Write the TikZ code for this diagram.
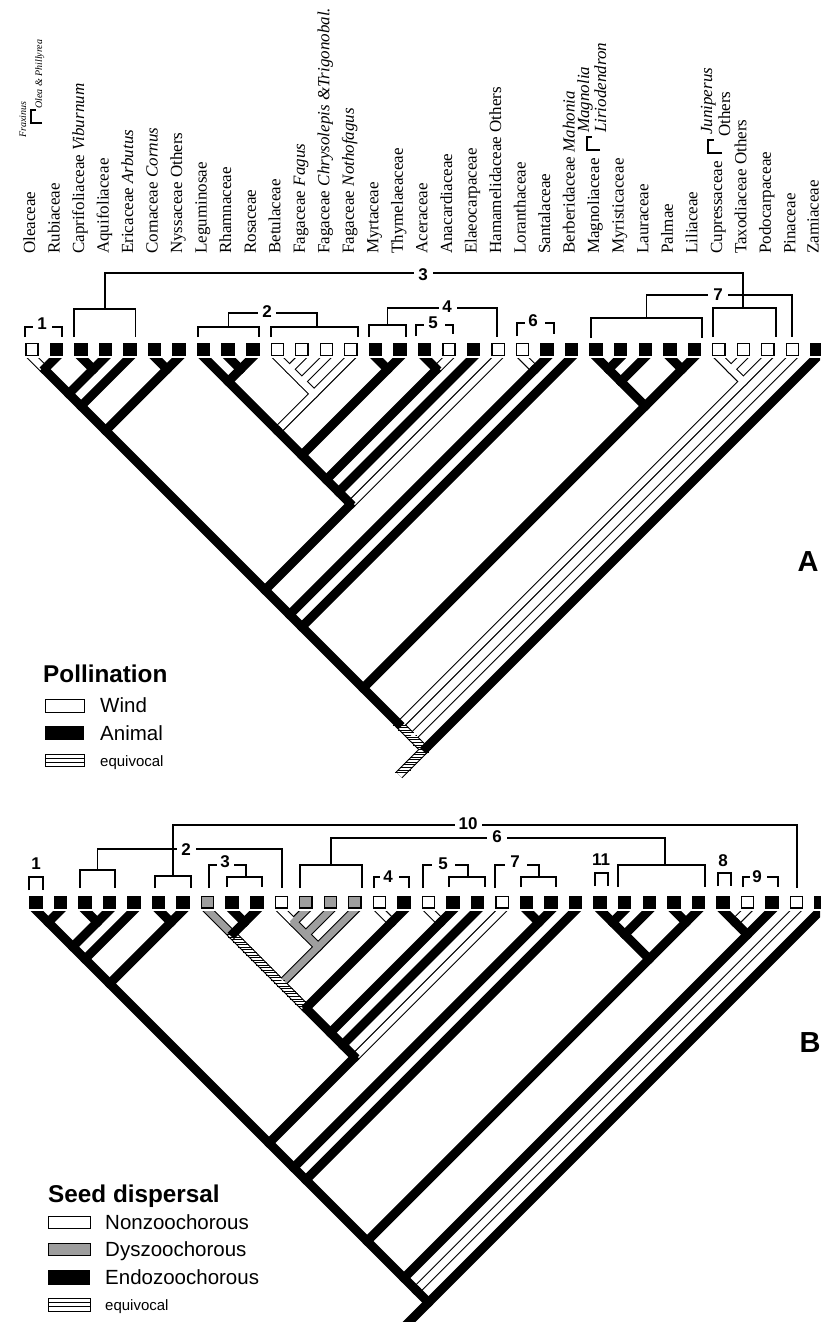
\documentclass[tikz,border=0pt]{standalone}
\usepackage{fontspec}
\setmainfont{Liberation Serif}
\setsansfont{Liberation Sans}
\usetikzlibrary{calc,decorations.markings}

\tikzset{
  limb/.style={line width=9pt, black},
  windfill/.style={line width=6.8pt, white},
  dyszfill/.style={line width=6.8pt, black!38},
  equivfill/.style={line width=6.8pt, white, postaction={decorate,
      decoration={markings, mark=between positions 0 and 1 step 3.6pt with
        {\pgftransformresetnontranslations \draw[black, line width=0.7pt] (-4.6pt,0) -- (4.6pt,0);}}}},
  animalbox/.style={fill=black, minimum width=13.5pt, minimum height=13pt, inner sep=0pt},
  windbox/.style={draw=black, line width=1.3pt, fill=white, minimum width=12.2pt, minimum height=11.7pt, inner sep=0pt},
  dyszbox/.style={windbox, fill=black!38},
  taxon/.style={rotate=90, anchor=base west, inner sep=0pt, font=\fontsize{17}{18}\selectfont},
  bracket/.style={line width=1.3pt},
  contrast/.style={font=\sffamily\bfseries\fontsize{17}{17}\selectfont, inner sep=0pt},
  legendhead/.style={anchor=base west, inner sep=0pt, font=\sffamily\bfseries\fontsize{24.3}{25}\selectfont},
  legendtext/.style={anchor=base west, inner sep=0pt, font=\sffamily\fontsize{20.5}{21}\selectfont},
  legendsmall/.style={anchor=base west, inner sep=0pt, font=\sffamily\fontsize{15}{15}\selectfont},
  panel/.style={font=\sffamily\bfseries\fontsize{29}{29}\selectfont, inner sep=0pt},
}

% node of a clade spanning tips #2..#3; tips start at x #4, branch tops at y #5
\newcommand{\mkclade}[5]{\coordinate (#1-#2-#3) at ({#4+12.265*(#2+#3-2)}, {#5+12.265*(#3-#2)});}

% pollination tree
\newcommand{\Ablack}{A-2/A-1-2/10pt, A-3/A-3-4/10pt, A-4/A-3-4/10pt, A-1-2/A-1-4/2pt, A-3-4/A-1-4/2pt,
  A-1-4/A-1-5/2pt, A-5/A-1-5/10pt, A-6/A-6-7/10pt, A-7/A-6-7/10pt, A-1-5/A-1-7/2pt, A-6-7/A-1-7/2pt,
  A-1-7/A-1-20/2pt, A-8/A-8-10/10pt, A-9/A-9-10/10pt, A-10/A-9-10/10pt, A-9-10/A-8-10/2pt,
  A-8-10/A-8-14/2pt, A-8-14/A-8-16/2pt, A-15/A-15-16/10pt, A-16/A-15-16/10pt, A-15-16/A-8-16/2pt,
  A-17/A-17-18/10pt, A-8-16/A-8-18/2pt, A-17-18/A-8-18/2pt, A-8-18/A-8-19/2pt, A-19/A-8-19/10pt,
  A-8-19/A-8-20/2pt, A-8-20/A-1-20/2pt, A-22/A-21-22/10pt, A-21-22/A-1-22/2pt, A-1-20/A-1-22/2pt,
  A-1-22/A-1-23/2pt, A-23/A-1-23/10pt, A-24/A-24-25/10pt, A-25/A-24-25/10pt, A-24-25/A-24-26/2pt,
  A-26/A-24-26/10pt, A-27/A-27-28/10pt, A-28/A-27-28/10pt, A-24-26/A-24-28/2pt, A-27-28/A-24-28/2pt,
  A-24-28/A-1-28/2pt, A-1-23/A-1-28/2pt, A-1-28/A-1-31/2pt, A-33/A-1-33/10pt}
\newcommand{\Awind}{A-1/A-1-2/10pt, A-11/A-11-12/10pt, A-12/A-11-12/10pt, A-11-12/A-11-13/2pt,
  A-13/A-11-13/10pt, A-11-13/A-11-14/2pt, A-14/A-11-14/10pt, A-11-14/A-8-14/2pt, A-18/A-17-18/10pt,
  A-20/A-8-20/10pt, A-21/A-21-22/10pt, A-29/A-29-30/10pt, A-30/A-29-30/10pt, A-29-30/A-29-31/2pt,
  A-31/A-29-31/10pt, A-29-31/A-1-31/2pt, A-32/A-1-32/10pt}
\newcommand{\Aequiv}{A-1-31/A-1-32/2pt, A-1-32/A-1-33/2pt, A-1-33/A-stub/2pt}

% seed dispersal tree
\newcommand{\Bblack}{B-1/B-1-2/10pt, B-2/B-1-2/10pt, B-3/B-3-4/10pt, B-4/B-3-4/10pt, B-1-2/B-1-4/2pt,
  B-3-4/B-1-4/2pt, B-1-4/B-1-5/2pt, B-5/B-1-5/10pt, B-6/B-6-7/10pt, B-7/B-6-7/10pt, B-1-5/B-1-7/2pt,
  B-6-7/B-1-7/2pt, B-1-7/B-1-20/2pt, B-9/B-9-10/10pt, B-10/B-9-10/10pt, B-9-10/B-8-10/2pt,
  B-16/B-15-16/10pt, B-15-16/B-8-16/2pt, B-8-16/B-8-18/2pt, B-18/B-17-18/10pt, B-17-18/B-8-18/2pt,
  B-8-18/B-8-19/2pt, B-19/B-8-19/10pt, B-8-19/B-8-20/2pt, B-8-20/B-1-20/2pt, B-21/B-21-22/10pt,
  B-22/B-21-22/10pt, B-21-22/B-1-22/2pt, B-1-20/B-1-22/2pt, B-1-22/B-1-23/2pt, B-23/B-1-23/10pt,
  B-24/B-24-25/10pt, B-25/B-24-25/10pt, B-24-25/B-24-26/2pt, B-26/B-24-26/10pt, B-27/B-27-28/10pt,
  B-28/B-27-28/10pt, B-24-26/B-24-28/2pt, B-27-28/B-24-28/2pt, B-24-28/B-1-28/2pt, B-1-23/B-1-28/2pt,
  B-1-28/B-1-31/2pt, B-29/B-29-30/10pt, B-29-30/B-29-31/2pt, B-31/B-29-31/10pt, B-29-31/B-1-31/2pt,
  B-1-31/B-1-32/2pt, B-1-32/B-1-33/2pt, B-33/B-1-33/10pt, B-1-33/B-stub/2pt}
\newcommand{\Bwind}{B-11/B-11-12/10pt, B-15/B-15-16/10pt, B-17/B-17-18/10pt, B-20/B-8-20/10pt,
  B-30/B-29-30/10pt, B-32/B-1-32/10pt}
\newcommand{\Bdysz}{B-8/B-8-10/10pt, B-12/B-11-12/10pt, B-11-12/B-11-13/2pt, B-13/B-11-13/10pt,
  B-11-13/B-11-14/2pt, B-14/B-11-14/10pt, B-11-14/B-8-14/2pt}
\newcommand{\Bequiv}{B-8-10/B-8-14/2pt, B-8-14/B-8-16/2pt}

\begin{document}
\begin{tikzpicture}[x=1pt, y=-1pt]
  \useasboundingbox (0,0) rectangle (820,1322);

  % tips and clade nodes
  \foreach \i in {1,...,33} {
    \coordinate (A-\i) at ({32+24.53*(\i-1)}, 357);
    \coordinate (B-\i) at ({36+24.53*(\i-1)}, 910);
  }
  \foreach \i/\j in {1/2, 3/4, 1/4, 1/5, 6/7, 1/7, 9/10, 8/10, 11/12, 11/13, 11/14, 8/14, 15/16, 8/16,
      17/18, 8/18, 8/19, 8/20, 1/20, 21/22, 1/22, 1/23, 24/25, 24/26, 27/28, 24/28, 1/28, 29/30,
      29/31, 1/31, 1/32, 1/33} {
    \mkclade{A}{\i}{\j}{32}{357}
    \mkclade{B}{\i}{\j}{36}{910}
  }
  \coordinate (A-stub) at ($(A-1-33)+(-24,24)$);
  \coordinate (B-stub) at ($(B-1-33)+(-24,24)$);

  % taxon names
  \node[taxon] (taxon-1) at (35,254) {Oleaceae};
  \draw[line width=2.4pt] (42,123) -- (31,123) -- (31,110) -- (36,110);
  \node[taxon, font=\fontsize{10}{11}\selectfont\itshape] at (26,138) {Fraxinus};
  \node[taxon, font=\fontsize{10}{11}\selectfont\itshape] at (42,109) {Olea \& Phillyrea};
  \foreach \i/\lbl in {2/Rubiaceae, 3/Caprifoliaceae \textit{Viburnum}, 4/Aquifoliaceae,
      5/Ericaceae \textit{Arbutus}, 6/Cornaceae \textit{Cornus}, 7/Nyssaceae Others, 8/Leguminosae,
      9/Rhamnaceae, 10/Rosaceae, 11/Betulaceae, 12/Fagaceae \textit{Fagus},
      13/Fagaceae \textit{Chrysolepis \&Trigonobal.}, 14/Fagaceae \textit{Nothofagus}, 15/Myrtaceae,
      16/Thymelaeaceae, 17/Aceraceae, 18/Anacardiaceae, 19/Elaeocarpaceae, 20/Hamamelidaceae Others,
      21/Loranthaceae, 22/Santalaceae, 23/Berberidaceae \textit{Mahonia}, 25/Myristicaceae,
      26/Lauraceae, 27/Palmae, 28/Liliaceae, 30/Taxodiaceae Others, 31/Podocarpaceae, 32/Pinaceae}
    \node[taxon] (taxon-\i) at ({35+24.53*(\i-1)}, 254) {\lbl};
  \node[taxon] (taxon-33) at (818.5,254) {Zamiaceae};
  \node[taxon] (taxon-24) at (599,254) {Magnoliaceae};
  \draw[line width=2.4pt] (600,150) -- (587,150) -- (587,137) -- (592,137);
  \node[taxon, font=\fontsize{17}{18}\selectfont\itshape] at (589,133) {Magnolia};
  \node[taxon, font=\fontsize{17}{18}\selectfont\itshape] at (606,133) {Liriodendron};
  \node[taxon] (taxon-29) at (722,254) {Cupressaceae};
  \draw[line width=2.4pt] (722,153) -- (708,153) -- (708,140) -- (714,140);
  \node[taxon, font=\fontsize{17}{18}\selectfont\itshape] at (712,135) {Juniperus};
  \node[taxon] at (730,137) {Others};

  % pollination states at the tips
  \foreach \i in {2,3,4,5,6,7,8,9,10,15,16,17,19,22,23,24,25,26,27,28,33}
    \node[animalbox] (A-box-\i) at ({32+24.53*(\i-1)}, 349.5) {};
  \foreach \i in {1,11,12,13,14,18,20,21,29,30,31,32}
    \node[windbox] (A-box-\i) at ({32+24.53*(\i-1)}, 349.5) {};

  % pollination tree
  \begin{scope}
    \clip (0,358) rectangle (820,800);
    \foreach \c/\p/\e in \Awind {\draw[limb, shorten <=-\e, shorten >=-2pt] (\c) -- (\p);}
    \foreach \c/\p/\e in \Aequiv {\draw[limb, shorten <=-\e, shorten >=-2pt] (\c) -- (\p);}
    \foreach \c/\p/\e in \Awind {\draw[windfill, shorten <=-\e, shorten >=-2pt] (\c) -- (\p);}
    \foreach \c/\p/\e in \Aequiv {\draw[equivfill, shorten <=-\e, shorten >=-2pt] (\c) -- (\p);}
    \foreach \c/\p/\e in \Ablack {\draw[limb, shorten <=-\e, shorten >=-2pt] (\c) -- (\p);}
  \end{scope}

  % pollination contrasts
  \draw[bracket] (25,337) |- (33,327);
  \node[contrast] (cA-1) at (42,323.5) {1};
  \draw[bracket] (52,327) -| (62,337);
  \draw[bracket] (74,337) |- (135.5,309) -- (135.5,337);
  \draw[bracket] (105,309) |- (414,273);
  \node[contrast] (cA-3) at (423,275) {3};
  \draw[bracket] (433,273) -| (743,308);
  \draw[bracket] (713,337) |- (776,308) -- (776,337);
  \draw[bracket] (198,337) |- (259,327) -- (259,337);
  \draw[bracket] (228.5,327) |- (258,313);
  \node[contrast] (cA-2) at (267,311.5) {2};
  \draw[bracket] (276,313) -| (317,327);
  \draw[bracket] (271,337) |- (358,327) -- (358,337);
  \draw[bracket] (369,337) |- (406,325) -- (406,337);
  \draw[bracket] (387.5,325) |- (439,308);
  \node[contrast] (cA-4) at (447,306.5) {4};
  \draw[bracket] (457,308) -| (497,337);
  \draw[bracket] (416,336) |- (424,325);
  \node[contrast] (cA-5) at (433,323) {5};
  \draw[bracket] (445,325) -| (453,334);
  \draw[bracket] (517,336) |- (525,323);
  \node[contrast] (cA-6) at (533,321) {6};
  \draw[bracket] (545,323) -| (554,334);
  \draw[bracket] (591,338) |- (702,318) -- (702,338);
  \draw[bracket] (646.5,318) |- (708,295);
  \node[contrast] (cA-7) at (718,295) {7};
  \draw[bracket] (728,295) -| (792,337);

  % pollination key
  \node[legendhead] (keyA) at (43,682) {Pollination};
  \draw[line width=1pt] (45,699) rectangle (84,712);
  \node[legendtext] at (100,712) {Wind};
  \fill (45,726) rectangle (84,740);
  \node[legendtext] at (100,740) {Animal};
  \draw[line width=0.9pt] (45,754) rectangle (84,766) (45,758) -- (84,758) (45,762) -- (84,762);
  \node[legendsmall] at (100,766) {equivocal};
  \node[panel] (panel-A) at (808,562) {A};

  % seed dispersal states at the tips
  \foreach \i in {1,2,3,4,5,6,7,9,10,16,18,19,21,22,23,24,25,26,27,28,29,31,33}
    \node[animalbox] (B-box-\i) at ({36+24.53*(\i-1)}, 902) {};
  \foreach \i in {11,15,17,20,30,32}
    \node[windbox] (B-box-\i) at ({36+24.53*(\i-1)}, 902) {};
  \foreach \i in {8,12,13,14}
    \node[dyszbox] (B-box-\i) at ({36+24.53*(\i-1)}, 902) {};

  % seed dispersal tree
  \begin{scope}
    \clip (0,911) rectangle (820,1330);
    \foreach \c/\p/\e in \Bwind {\draw[limb, shorten <=-\e, shorten >=-2pt] (\c) -- (\p);}
    \foreach \c/\p/\e in \Bdysz {\draw[limb, shorten <=-\e, shorten >=-2pt] (\c) -- (\p);}
    \foreach \c/\p/\e in \Bequiv {\draw[limb, shorten <=-\e, shorten >=-2pt] (\c) -- (\p);}
    \foreach \c/\p/\e in \Bwind {\draw[windfill, shorten <=-\e, shorten >=-2pt] (\c) -- (\p);}
    \foreach \c/\p/\e in \Bdysz {\draw[dyszfill, shorten <=-\e, shorten >=-2pt] (\c) -- (\p);}
    \foreach \c/\p/\e in \Bequiv {\draw[equivfill, shorten <=-\e, shorten >=-2pt] (\c) -- (\p);}
    \foreach \c/\p/\e in \Bblack {\draw[limb, shorten <=-\e, shorten >=-2pt] (\c) -- (\p);}
  \end{scope}

  % seed dispersal contrasts
  \draw[bracket] (29,890) |- (43,877) -- (43,890);
  \node[contrast] (cB-1) at (36,863.5) {1};
  \draw[bracket] (80,888) |- (115,870) -- (115,888);
  \draw[bracket] (97.5,870) |- (177,849);
  \node[contrast] (cB-2) at (186,850) {2};
  \draw[bracket] (196,849) -| (282,888);
  \draw[bracket] (155,888) |- (191,876) -- (191,888);
  \draw[bracket] (173,876) |- (455,825);
  \node[contrast] (cB-10) at (468,823.5) {10};
  \draw[bracket] (482,825) -| (797,888);
  \draw[bracket] (209,888) |- (217,865);
  \node[contrast] (cB-3) at (225,861.5) {3};
  \draw[bracket] (234,865) -| (246,877);
  \draw[bracket] (227,887) |- (262,877) -- (262,887);
  \draw[bracket] (300,888) |- (362,865) -- (362,888);
  \draw[bracket] (331,865) |- (487,838);
  \node[contrast] (cB-6) at (497,836.5) {6};
  \draw[bracket] (507,838) -| (665,865);
  \draw[bracket] (618,887) |- (705,865) -- (705,887);
  \draw[bracket] (374,888) |- (380,877);
  \node[contrast] (cB-4) at (388,876.5) {4};
  \draw[bracket] (399,877) -| (409,888);
  \draw[bracket] (423,888) |- (432,865);
  \node[contrast] (cB-5) at (443,863.5) {5};
  \draw[bracket] (455,865) -| (468,877);
  \draw[bracket] (449,887) |- (485,877) -- (485,887);
  \draw[bracket] (495,888) |- (505,865);
  \node[contrast] (cB-7) at (515,862) {7};
  \draw[bracket] (527,865) -| (539,877);
  \draw[bracket] (521,887) |- (556,877) -- (556,887);
  \draw[bracket] (595,886) |- (608,873) -- (608,886);
  \node[contrast] (cB-11) at (601,860) {11};
  \draw[bracket] (718,886) |- (731,873) -- (731,886);
  \node[contrast] (cB-8) at (723,860.5) {8};
  \draw[bracket] (743,887) |- (750,877);
  \node[contrast] (cB-9) at (757,876.5) {9};
  \draw[bracket] (767,877) -| (778,887);

  % seed dispersal key
  \node[legendhead] (keyB) at (48,1202) {Seed dispersal};
  \draw[line width=1pt] (48,1216) rectangle (90,1228);
  \node[legendtext] at (105,1229) {Nonzoochorous};
  \draw[line width=1pt, fill=black!38] (48,1243) rectangle (90,1255);
  \node[legendtext] at (105,1256) {Dyszoochorous};
  \fill (48,1270) rectangle (90,1285);
  \node[legendtext] at (105,1284) {Endozoochorous};
  \draw[line width=0.9pt] (48,1298) rectangle (90,1311) (48,1302) -- (90,1302) (48,1306.5) -- (90,1306.5);
  \node[legendsmall] at (105,1310) {equivocal};
  \node[panel] (panel-B) at (810,1043) {B};
\end{tikzpicture}
\end{document}
